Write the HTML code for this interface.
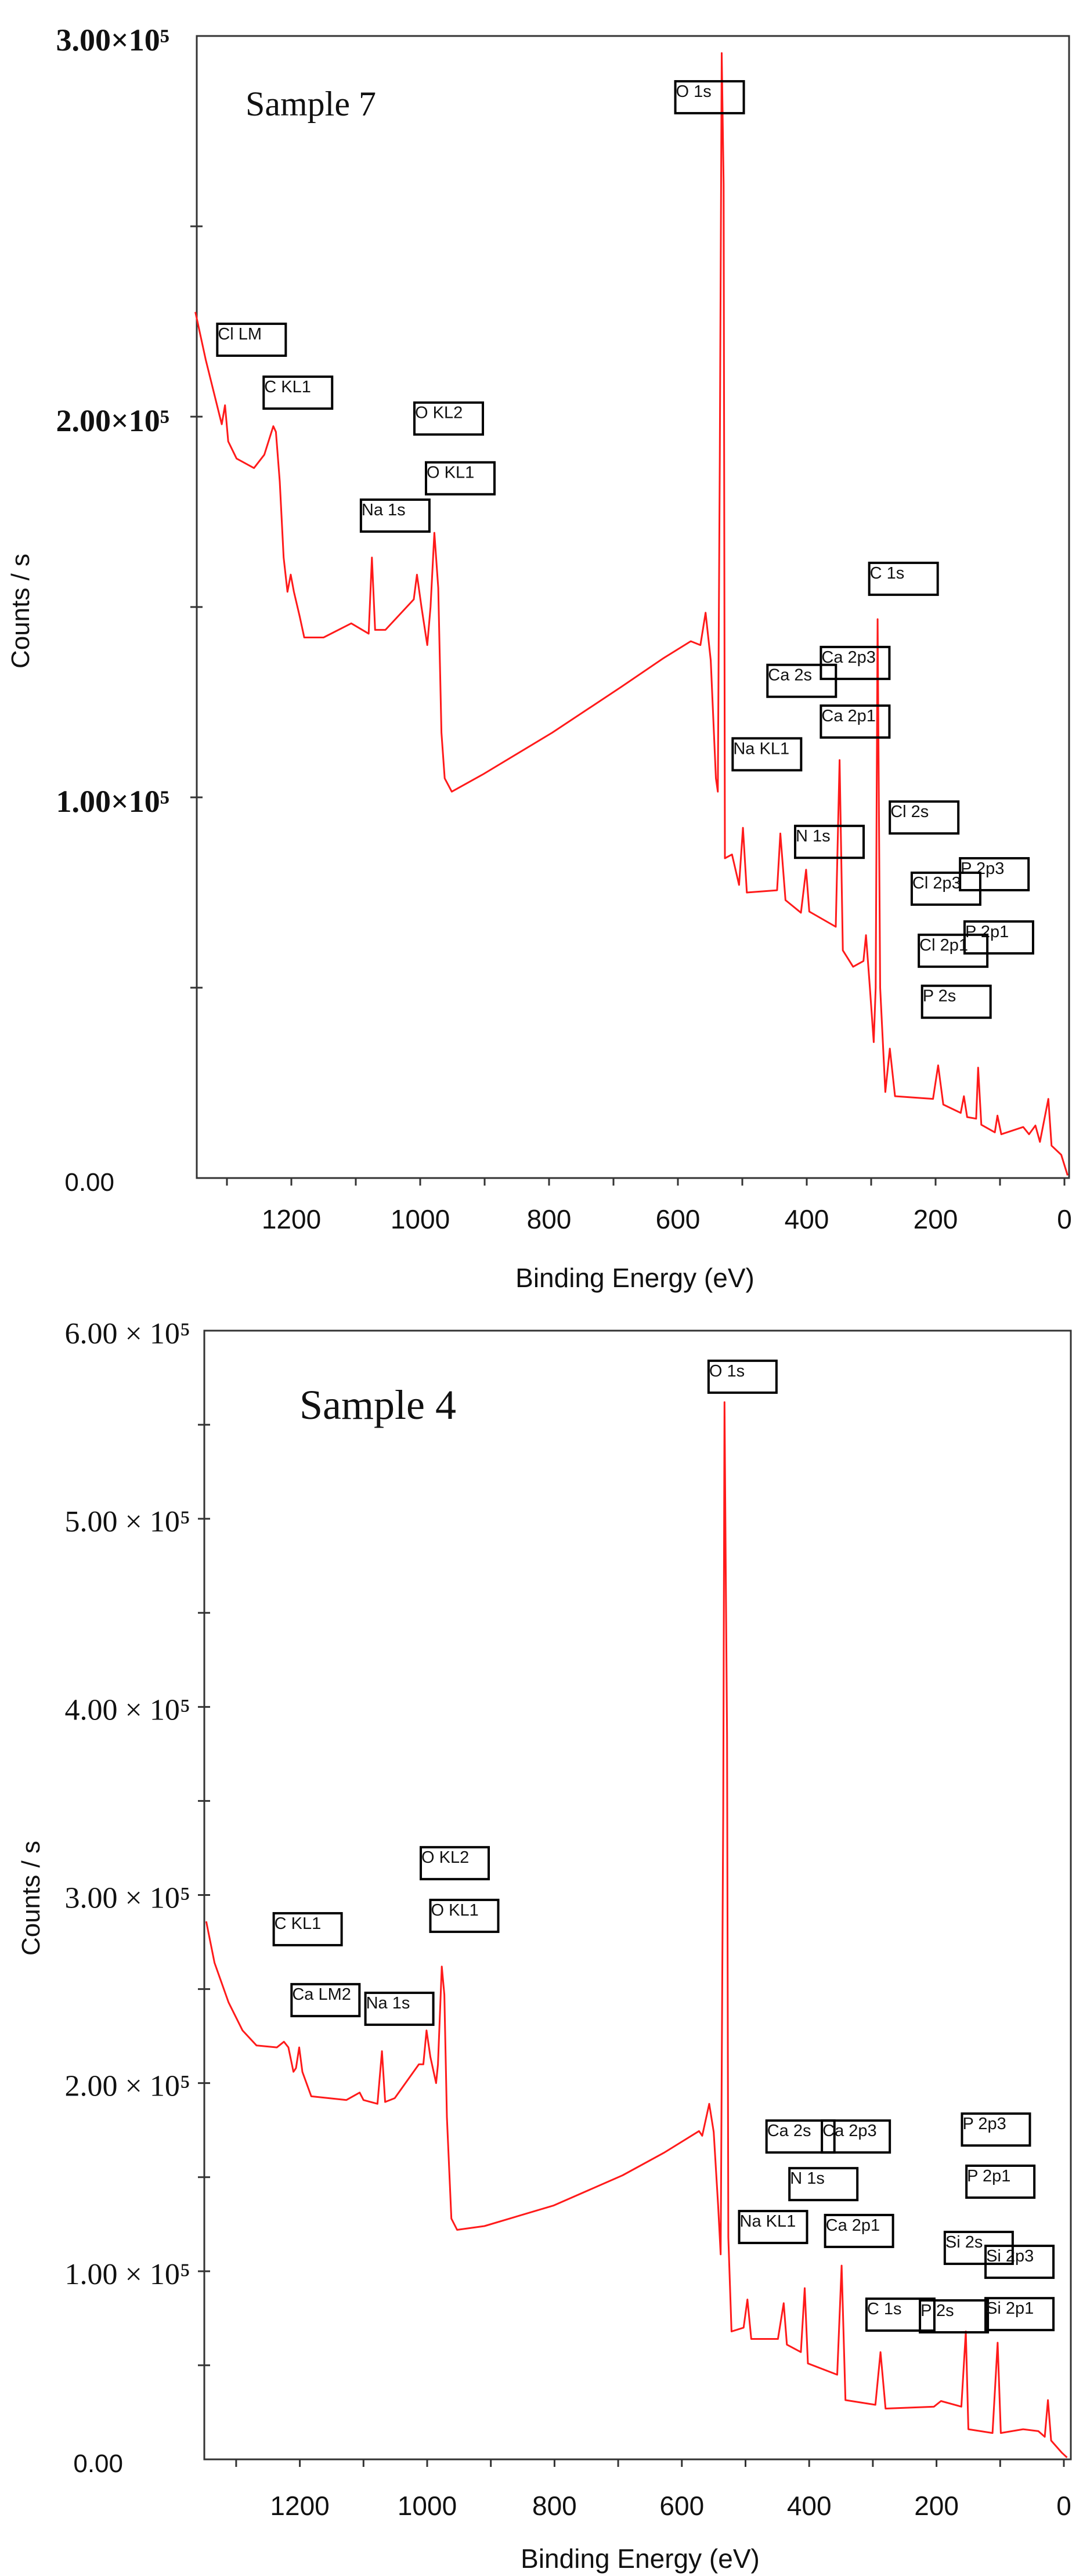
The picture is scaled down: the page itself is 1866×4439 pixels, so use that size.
<!DOCTYPE html>
<html><head><meta charset="utf-8"><title>XPS survey spectra</title>
<style>
html,body{margin:0;padding:0;background:#fff;}
svg{display:block;}
.ann rect{fill:none;stroke:#000;stroke-width:4;}
.ann text{font-family:"Liberation Sans",sans-serif;font-size:29px;fill:#111;}
</style></head>
<body>
<svg id="fig" xmlns="http://www.w3.org/2000/svg" width="1866" height="4439" viewBox="0 0 1866 4439"></svg>
<script>
// ---------- Sample 7 data ----------
const s7Energy = [1349,1333,1311,1308,1303,1298,1285,1258,1242,1228,1224,1218,1212,1206,1201,1196,1187,1180,1150,1107,1080,1075,1070,1054,1021,1010,1005,998,989,984,978,972,967,962,951,903,795,688,623,580,565,557,549,541,538,535,532,529,527,516,505,499,493,446,441,433,409,401,396,355,349,344,328,312,308,302,296,293,290,286,278,271,263,204,196,188,161,156,151,137,134,129,108,104,98,64,55,45,38,25,20,5,-5];
const s7Counts = [2.275,2.15,2.00,1.98,2.03,1.935,1.89,1.865,1.90,1.975,1.96,1.83,1.63,1.54,1.585,1.54,1.475,1.42,1.42,1.457,1.43,1.63,1.44,1.44,1.50,1.52,1.585,1.50,1.40,1.50,1.695,1.55,1.17,1.05,1.015,1.06,1.17,1.29,1.365,1.41,1.40,1.485,1.36,1.05,1.015,1.89,2.955,2.61,0.84,0.85,0.77,0.92,0.75,0.756,0.905,0.73,0.697,0.81,0.70,0.66,1.098,0.598,0.555,0.57,0.638,0.50,0.357,0.50,1.468,0.50,0.226,0.34,0.215,0.208,0.296,0.193,0.171,0.215,0.16,0.156,0.29,0.14,0.12,0.164,0.115,0.134,0.115,0.138,0.095,0.208,0.085,0.061,0.007];
const s7YTicks = [0,1,2,3];
const s7YLabels = ["0.00","1.00×10⁵","2.00×10⁵","3.00×10⁵"];
const s7XTicks = [0,200,400,600,800,1000,1200];
const s7Peaks = ["O 1s","Cl LM","C KL1","O KL2","O KL1","Na 1s","C 1s","Ca 2p3","Ca 2s","Ca 2p1","Na KL1","Cl 2s","N 1s","P 2p3","Cl 2p3","P 2p1","Cl 2p1","P 2s"];
const s7PeakE = [604,1315,1243,1009,991,1092,303,378,461,378,515,271,418,162,237,155,226,221];
const s7PeakV = [2.881,2.244,2.105,2.037,1.880,1.782,1.616,1.395,1.348,1.241,1.155,0.989,0.925,0.840,0.802,0.674,0.639,0.505];

// ---------- Sample 4 data ----------
const s4Energy = [1347,1334,1312,1290,1268,1236,1225,1218,1210,1206,1201,1196,1182,1127,1106,1100,1078,1071,1066,1051,1013,1006,1001,995,986,983,977,973,969,962,953,910,801,693,628,573,568,557,550,543,539,535,533,531,529,527,522,503,497,491,449,440,435,413,407,402,356,349,343,296,288,280,204,193,161,154,150,112,104,99,64,40,30,25,20,3,-5];
const s4Counts = [2.86,2.64,2.43,2.28,2.20,2.19,2.22,2.19,2.06,2.08,2.19,2.06,1.93,1.91,1.95,1.91,1.89,2.17,1.90,1.92,2.10,2.10,2.28,2.14,2.00,2.10,2.62,2.47,1.82,1.28,1.22,1.24,1.35,1.51,1.63,1.745,1.72,1.89,1.74,1.35,1.09,3.44,5.62,4.71,3.85,1.18,0.68,0.70,0.85,0.64,0.64,0.83,0.61,0.57,0.91,0.51,0.45,1.03,0.315,0.29,0.57,0.27,0.28,0.31,0.28,0.68,0.16,0.14,0.62,0.14,0.16,0.15,0.12,0.315,0.10,0.035,0.01];
const s4YTicks = [0,1,2,3,4,5,6];
const s4YLabels = ["0.00","1.00 × 10⁵","2.00 × 10⁵","3.00 × 10⁵","4.00 × 10⁵","5.00 × 10⁵","6.00 × 10⁵"];
const s4XTicks = [0,200,400,600,800,1000,1200];
const s4Peaks = ["O 1s","O KL2","O KL1","C KL1","Ca LM2","Na 1s","Ca 2s","Ca 2p3","P 2p3","N 1s","P 2p1","Na KL1","Ca 2p1","Si 2s","Si 2p3","C 1s","P 2s","Si 2p1"];
const s4PeakE = [558,1010,995,1241,1213,1097,467,380,160,431,153,510,375,187,123,310,226,123];
const s4PeakV = [5.84,3.254,2.974,2.903,2.526,2.480,1.801,1.801,1.838,1.548,1.561,1.320,1.299,1.209,1.135,0.854,0.845,0.857];

const NS='http://www.w3.org/2000/svg';
const svg=document.getElementById('fig');
function mk(tag,attrs,parent){const e=document.createElementNS(NS,tag);for(const k in attrs)e.setAttribute(k,attrs[k]);(parent||svg).appendChild(e);return e;}

function drawChart(cfg){
  const g=mk('g',{});
  
  
  const xS=e=>cfg.x0-e*cfg.pxPerEV;
  const yS=v=>cfg.bottom-(v/cfg.vmax)*(cfg.bottom-cfg.top);
  const fr=mk('rect',{x:cfg.left,y:cfg.top,width:cfg.right-cfg.left,height:cfg.bottom-cfg.top,fill:'none',stroke:'#333',"stroke-width":3},g);
  
  
  for(let e=0;e<=1300;e+=100){
    const t=mk('line',{x1:xS(e),x2:xS(e),y1:cfg.bottom,y2:cfg.bottom+13,stroke:'#333',"stroke-width":3},g);
    
    
  }
  cfg.xTicks.forEach(e=>{
    const t=mk('text',{x:xS(e),y:cfg.xLabelY,"text-anchor":"middle","font-family":"Liberation Sans, sans-serif","font-size":46,fill:'#111'},g);
    t.textContent=String(e);
    
    
  });
  const step=0.5;
  for(let v=step;v<cfg.vmax-1e-6;v+=step){
    const t=mk('line',{x1:cfg.left-11,x2:cfg.left+10,y1:yS(v),y2:yS(v),stroke:'#333',"stroke-width":3},g);
    
    
  }
  cfg.yTicks.forEach((v,i)=>{
    const zero=(v===0);
    const attrs={x:zero?cfg.zeroRight:cfg.labelRight,y:yS(v)+(zero?cfg.zeroDy:cfg.labelDy),"text-anchor":"end",fill:'#111'};
    if(zero){attrs['font-family']='Liberation Sans, sans-serif';attrs['font-size']=44;}
    else{attrs['font-family']='Liberation Serif, serif';attrs['font-size']=cfg.labelSize;attrs['font-weight']=cfg.labelWeight;}
    const t=mk('text',attrs,g);
    t.textContent=cfg.yLabels[i];
    
    
  });
  const yt=mk('text',{x:0,y:0,transform:`translate(${cfg.yTitleX},${cfg.yTitleY}) rotate(-90)`,"text-anchor":"middle","font-family":"Liberation Sans, sans-serif","font-size":44,fill:'#111'},g);
  yt.textContent='Counts / s';
  
  
  const xt=mk('text',{x:cfg.xTitleX,y:cfg.xTitleY,"text-anchor":"middle","font-family":"Liberation Sans, sans-serif","font-size":46,fill:'#111'},g);
  xt.textContent='Binding Energy (eV)';
  
  
  const st=mk('text',{x:cfg.titleX,y:cfg.titleY,"font-family":"Liberation Serif, serif","font-size":cfg.titleSize,fill:'#111'},g);
  st.textContent=cfg.title;
  
  
  const pts=cfg.energy.map((e,i)=>xS(e).toFixed(1)+','+yS(cfg.counts[i]).toFixed(1)).join(' ');
  const pl=mk('polyline',{points:pts,fill:'none',stroke:'#ff1a1a',"stroke-width":3,"stroke-linejoin":"round"},g);
  
  
  cfg.peaks.forEach((p,i)=>{
    const a=mk('g',{class:'ann'},g);
    
    
    const bx=xS(cfg.peakE[i]), by=yS(cfg.peakV[i]);
    mk('rect',{x:bx,y:by,width:cfg.boxW,height:55},a);
    const t=mk('text',{x:bx+1,y:by+27},a);
    t.textContent=p;
  });
}

drawChart({name:'sample-7-chart',title:'Sample 7',titleX:423,titleY:199,titleSize:60,
  left:339,right:1842,top:62,bottom:2030,x0:1834,pxPerEV:1.11,vmax:3,
  energy:s7Energy,counts:s7Counts,yTicks:s7YTicks,yLabels:s7YLabels,xTicks:s7XTicks,
  labelRight:292,labelDy:25,labelSize:54,labelWeight:'bold',zeroRight:197,zeroDy:22,
  xLabelY:2117,yTitleX:50,yTitleY:1053,xTitleX:1094,xTitleY:2218,
  peaks:s7Peaks,peakE:s7PeakE,peakV:s7PeakV,boxW:118});
drawChart({name:'sample-4-chart',title:'Sample 4',titleX:516,titleY:2445,titleSize:72,
  left:352,right:1845,top:2293,bottom:4238,x0:1833,pxPerEV:1.097,vmax:6,
  energy:s4Energy,counts:s4Counts,yTicks:s4YTicks,yLabels:s4YLabels,xTicks:s4XTicks,
  labelRight:328,labelDy:22,labelSize:52,labelWeight:'normal',zeroRight:212,zeroDy:22,
  xLabelY:4334,yTitleX:68,yTitleY:3271,xTitleX:1103,xTitleY:4425,
  peaks:s4Peaks,peakE:s4PeakE,peakV:s4PeakV,boxW:117});
</script>
</body></html>
